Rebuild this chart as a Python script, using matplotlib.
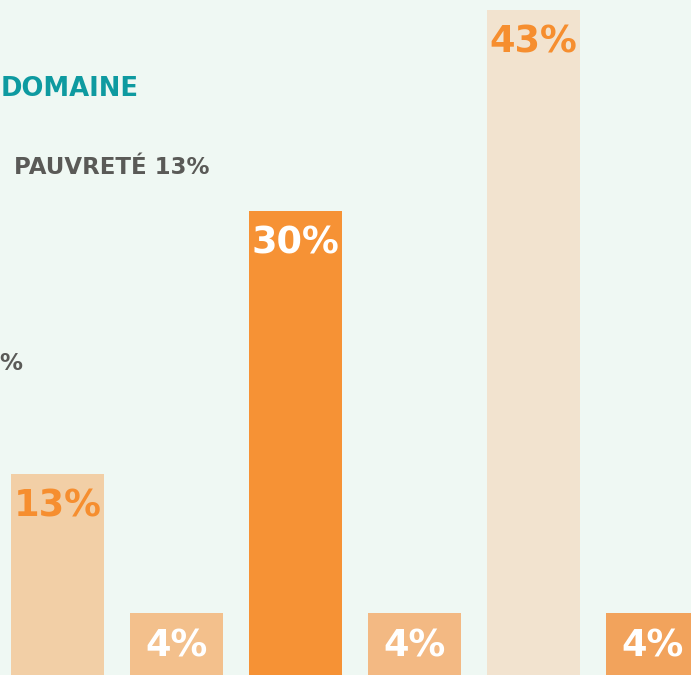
import matplotlib.pyplot as plt

# bar data (left to right)
values = [13, 4, 30, 4, 43, 4]
labels = ['13%', '4%', '30%', '4%', '43%', '4%']
bar_colors = ['#F2CFA6', '#F3C08C', '#F69235', '#F3B983', '#F2E3CF', '#F2A35C']
label_colors = ['#F68E2F', 'white', 'white', 'white', '#F68E2F', 'white']

bg = '#EFF8F3'
plt.rcParams['font.family'] = ['DejaVu Sans']

fig = plt.figure(figsize=(6.91, 6.75), dpi=100, facecolor=bg)
ax = fig.add_axes([0, 0, 1, 1])
ax.set_facecolor(bg)

x = range(len(values))
ax.bar(x, values, width=0.78, color=bar_colors)
ax.set_xlim(-0.483, 5.324)
ax.set_ylim(0, 43.65)
ax.axis('off')

for i, (v, lab, c) in enumerate(zip(values, labels, label_colors)):
    ax.annotate(lab, (i, v), xytext=(0, -10), textcoords='offset points',
                ha='center', va='top', color=c, fontsize=26.5, fontweight='bold')

# titles (only the visible part of the original headings)
fig.text(139 / 691, 1 - 89 / 675, 'DOMAINE', ha='right', va='center',
         color='#0E9AA0', fontsize=18.6, fontweight='bold')
fig.text(209 / 691, 1 - 167 / 675, 'PAUVRETÉ 13%', ha='right', va='center',
         color='#5A5A57', fontsize=16.5, fontweight='bold')
fig.text(22 / 691, 1 - 363 / 675, '%', ha='right', va='center',
         color='#5A5A57', fontsize=16.5, fontweight='bold')

fig.savefig('out.png', dpi=100, facecolor=bg)
